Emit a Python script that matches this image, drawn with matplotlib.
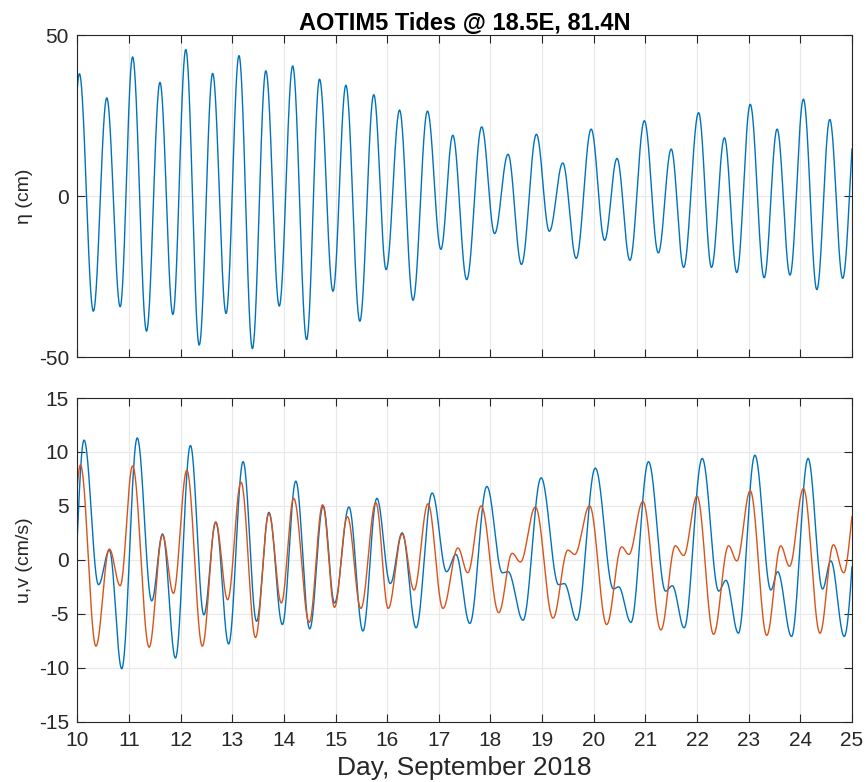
import numpy as np
import matplotlib
matplotlib.use("Agg")
import matplotlib.pyplot as plt

# ---------------- data (extrema) ----------------
eta_day = [9.79, 10.04, 10.31, 10.57, 10.83, 11.07, 11.34, 11.60, 11.85, 12.10, 12.36,
           12.62, 12.88, 13.13, 13.39, 13.65, 13.91, 14.17, 14.44, 14.69, 14.95,
           15.20, 15.47, 15.74, 15.98, 16.24, 16.50, 16.78, 17.04, 17.27, 17.54,
           17.83, 18.08, 18.34, 18.60, 18.89, 19.14, 19.40, 19.66, 19.95, 20.21,
           20.45, 20.70, 20.98, 21.25, 21.50, 21.74, 22.03, 22.28, 22.53, 22.77,
           23.03, 23.30, 23.55, 23.80, 24.06, 24.32, 24.57, 24.82, 25.09]
eta_cm = [-33, 38, -35.7, 30.5, -34.3, 43.2, -41.9, 35.3, -36.7, 45.5, -46.2,
          38.1, -36.4, 43.6, -47.3, 38.9, -34.1, 40.4, -44.5, 36.3, -29.5,
          34.4, -38.8, 31.5, -22.8, 26.7, -32.3, 26.4, -16.5, 18.9, -25.9,
          21.5, -11.6, 13.0, -21.2, 19.2, -10.9, 10.3, -19.3, 20.8, -13.7,
          11.7, -19.9, 23.4, -17.6, 14.6, -22.1, 25.9, -22.1, 18.1, -23.7,
          28.5, -25.3, 20.8, -24.5, 30.1, -29.0, 23.8, -25.5, 28.0]

u_day = [9.85, 10.13, 10.41, 10.62, 10.86, 11.16, 11.44, 11.65, 11.90, 12.19, 12.45,
         12.68, 12.93, 13.21, 13.47, 13.71, 13.97, 14.23, 14.50, 14.76, 14.98,
         15.26, 15.53, 15.80, 16.06, 16.29, 16.56, 16.87, 17.15, 17.33, 17.60,
         17.93, 18.23, 18.34, 18.63, 18.98, 19.32, 19.43, 19.67, 20.03, 20.38,
         20.48, 20.72, 21.06, 21.39, 21.52, 21.75, 22.10, 22.42, 22.56, 22.80,
         23.12, 23.43, 23.56, 23.83, 24.15, 24.43, 24.59, 24.85, 25.20]
u_cms = [-9.0, 11.1, -2.3, 0.9, -10.1, 11.3, -3.8, 2.4, -9.1, 10.6, -5.1,
         3.5, -7.8, 9.1, -5.7, 4.4, -6.0, 7.3, -6.4, 5.0, -4.0,
         4.9, -6.6, 5.7, -2.2, 2.5, -6.3, 6.2, -1.1, 0.5, -5.9,
         6.8, -1.2, -1.1, -5.6, 7.6, -2.3, -2.2, -5.6, 8.5, -2.7,
         -2.5, -5.8, 9.1, -2.9, -2.4, -6.3, 9.4, -2.9, -1.9, -6.8,
         9.7, -2.8, -1.1, -7.1, 9.4, -2.7, -0.1, -7.1, 9.5]

v_day = [9.80, 10.06, 10.36, 10.62, 10.83, 11.07, 11.39, 11.65, 11.86, 12.12, 12.42,
         12.68, 12.91, 13.17, 13.45, 13.71, 13.95, 14.19, 14.49, 14.75, 14.98,
         15.23, 15.49, 15.78, 16.02, 16.29, 16.52, 16.79, 17.08, 17.37, 17.56,
         17.82, 18.16, 18.42, 18.58, 18.87, 19.21, 19.50, 19.63, 19.92, 20.25,
         20.54, 20.68, 20.95, 21.30, 21.58, 21.74, 22.00, 22.32, 22.61, 22.77,
         23.03, 23.35, 23.62, 23.79, 24.06, 24.38, 24.64, 24.84, 25.10]
v_cms = [-7.0, 8.8, -8.0, 1.0, -2.4, 8.7, -8.1, 2.3, -3.1, 8.3, -8.0,
         3.5, -3.7, 7.2, -7.2, 4.3, -4.0, 5.7, -5.8, 5.1, -4.4,
         4.0, -4.5, 5.3, -4.5, 2.4, -2.8, 5.2, -4.5, 1.1, -1.2,
         5.0, -4.9, 0.6, -0.2, 4.9, -5.4, 0.9, 0.5, 5.0, -6.0,
         1.2, 0.5, 5.4, -6.5, 1.3, 0.4, 5.9, -6.9, 1.3, -0.1,
         6.4, -7.0, 1.3, -0.6, 6.6, -6.8, 1.4, -1.2, 6.5]

x_ticks = list(range(10, 26))
title = "AOTIM5 Tides @ 18.5E, 81.4N"
xlabel = "Day, September 2018"
ylabel_top = "\u03b7 (cm)"
ylabel_bot = "u,v (cm/s)"


def smooth(td, vd, t):
    td = np.asarray(td, float)
    vd = np.asarray(vd, float)
    i = np.clip(np.searchsorted(td, t, side="right") - 1, 0, len(td) - 2)
    s = (t - td[i]) / (td[i + 1] - td[i])
    w = (1 - np.cos(np.pi * s)) / 2
    return vd[i] + (vd[i + 1] - vd[i]) * w


plt.rcParams["font.family"] = ["Liberation Sans", "DejaVu Sans"]
plt.rcParams["axes.unicode_minus"] = False

BLUE = "#0072BD"
ORANGE = "#D95319"
TXT = "#262626"

fig = plt.figure(figsize=(8.66, 7.82), dpi=100)
ax1 = fig.add_axes([0.0893, 0.5431, 0.9838 - 0.0893, 0.9552 - 0.5431])
ax2 = fig.add_axes([0.0893, 0.0772, 0.9838 - 0.0893, 0.4910 - 0.0772])

t = np.linspace(10, 25, 6000)
ax1.plot(t, smooth(eta_day, eta_cm, t), color=BLUE, lw=1.0)
ax2.plot(t, smooth(u_day, u_cms, t), color=BLUE, lw=1.0)
ax2.plot(t, smooth(v_day, v_cms, t), color=ORANGE, lw=1.0)

for ax in (ax1, ax2):
    ax.set_xlim(10, 25)
    ax.set_xticks(x_ticks)
    ax.grid(True, color="#e8e8e8", lw=0.8)
    ax.set_axisbelow(True)
    ax.tick_params(direction="in", length=6, width=0.8, top=True, right=True,
                   labelsize=15, colors=TXT)
    ax.tick_params(axis="x", pad=7)
    ax.tick_params(axis="y", pad=6)
    for sp in ax.spines.values():
        sp.set_color(TXT)
        sp.set_linewidth(0.8)

ax1.set_ylim(-50, 50)
ax1.set_yticks([-50, 0, 50])
ax1.tick_params(labelbottom=False)
ax1.set_ylabel(ylabel_top, fontsize=14, color=TXT, labelpad=4)
ax1.set_title(title, fontsize=17, fontweight="bold", color="#000000", pad=3)

ax2.set_ylim(-15, 15)
ax2.set_yticks([-15, -10, -5, 0, 5, 10, 15])
ax2.set_ylabel(ylabel_bot, fontsize=14, color=TXT, labelpad=4)
ax2.set_xlabel(xlabel, fontsize=19, color=TXT, labelpad=4)

fig.savefig("out.png", dpi=100)
